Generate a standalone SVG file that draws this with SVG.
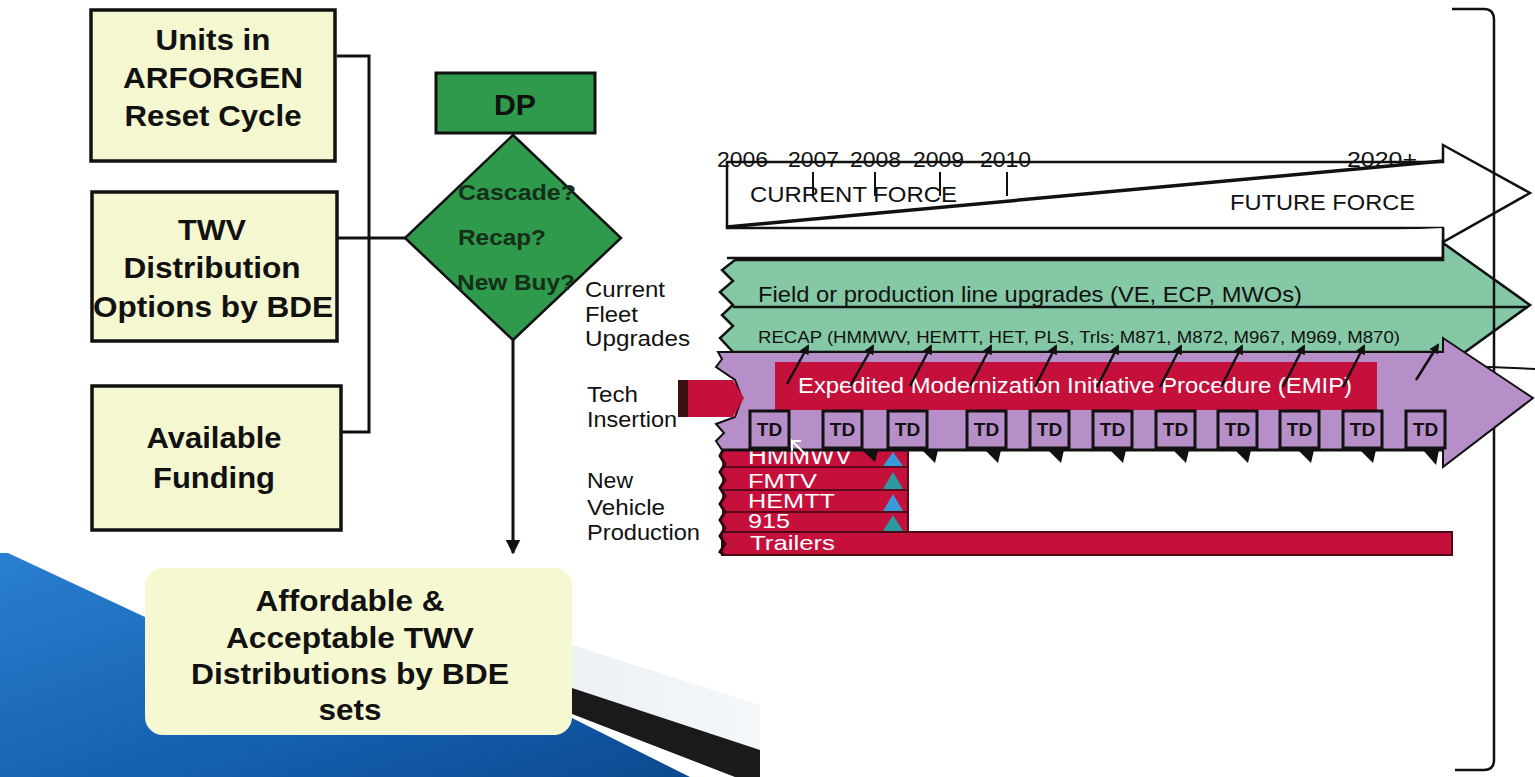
<svg xmlns="http://www.w3.org/2000/svg" width="1535" height="777" viewBox="0 0 1535 777">
<defs>
<style>
.bx{fill:#f4f7cf;stroke:#111;stroke-width:3.5}
.bt{font-family:"Liberation Sans",Arial,sans-serif;font-weight:bold;font-size:30px;fill:#111;text-anchor:middle}
.dt{font-family:"Liberation Sans",Arial,sans-serif;font-weight:bold;font-size:22px;fill:#142e19}
.lt{font-family:"Liberation Sans",Arial,sans-serif;font-size:22px;fill:#111}
.tt{font-family:"Liberation Sans",Arial,sans-serif;font-size:22px;fill:#111}
.wt{font-family:"Liberation Sans",Arial,sans-serif;font-size:21px;fill:#fff}
.td{fill:#b68ec8;stroke:#111;stroke-width:3}
.tdt{font-family:"Liberation Sans",Arial,sans-serif;font-weight:bold;font-size:19px;fill:#111;text-anchor:middle}
.ln{fill:none;stroke:#111;stroke-width:3}
.ar{stroke:#111;stroke-width:2.5;fill:none}
.pn{fill:#111}
.red{fill:#c5103c}
</style>
<marker id="ah" viewBox="0 0 10 10" refX="8" refY="5" markerWidth="4" markerHeight="4" orient="auto"><path d="M0,0 L10,5 L0,10 z" fill="#111"/></marker>
<marker id="ah2" viewBox="0 0 10 10" refX="9" refY="5" markerWidth="5" markerHeight="5" orient="auto"><path d="M0,0 L10,5 L0,10 z" fill="#111"/></marker>
<linearGradient id="blue" x1="0" y1="0" x2="1" y2="1">
<stop offset="0" stop-color="#2a7fd0"/>
<stop offset="0.6" stop-color="#1560b0"/>
<stop offset="1" stop-color="#0b4a90"/>
</linearGradient>
<linearGradient id="grey" x1="0" y1="0" x2="1" y2="0">
<stop offset="0" stop-color="#dfe7ef"/>
<stop offset="1" stop-color="#eef2f6"/>
</linearGradient>
</defs>

<!-- background decoration -->
<g id="decor">
<polygon points="0,553 8,553 145,617 572,718 690,777 0,777" fill="url(#blue)"/>
<polygon points="572,645 760,705 760,752 572,690" fill="url(#grey)" opacity="0.6"/>
<polygon points="572,688 760,750 760,777 735,777 572,714" fill="#1a1a1a"/>
</g>

<!-- connectors -->
<g id="connectors">
<polyline class="ln" points="337,56 369,56 369,432 341,432"/>
<line class="ln" x1="337" y1="238" x2="406" y2="238"/>
<line x1="513" y1="340" x2="513" y2="553" stroke="#111" stroke-width="3" marker-end="url(#ah2)"/>
</g>

<g id="box-units">
<rect class="bx" x="91" y="10" width="244" height="151"/>
<text class="bt" x="213" y="50" textLength="115" lengthAdjust="spacingAndGlyphs">Units in</text>
<text class="bt" x="213" y="88" textLength="180" lengthAdjust="spacingAndGlyphs">ARFORGEN</text>
<text class="bt" x="213" y="126" textLength="177" lengthAdjust="spacingAndGlyphs">Reset Cycle</text>
</g>
<g id="box-twv">
<rect class="bx" x="92" y="192" width="245" height="149"/>
<text class="bt" x="212" y="240" textLength="68" lengthAdjust="spacingAndGlyphs">TWV</text>
<text class="bt" x="212" y="278" textLength="177" lengthAdjust="spacingAndGlyphs">Distribution</text>
<text class="bt" x="213" y="317" textLength="240" lengthAdjust="spacingAndGlyphs">Options by BDE</text>
</g>
<g id="box-funding">
<rect class="bx" x="92" y="386" width="249" height="144"/>
<text class="bt" x="214" y="448" textLength="135" lengthAdjust="spacingAndGlyphs">Available</text>
<text class="bt" x="214" y="488" textLength="122" lengthAdjust="spacingAndGlyphs">Funding</text>
</g>

<g id="dp">
<rect x="436" y="73" width="159" height="60" fill="#2f9a4b" stroke="#111" stroke-width="3"/>
<text class="bt" x="515" y="115" textLength="42" lengthAdjust="spacingAndGlyphs">DP</text>
</g>
<g id="decision">
<polygon points="513,135 621,238 513,340 405,238" fill="#2f9a4b" stroke="#111" stroke-width="2.5"/>
<text class="dt" x="458" y="200" textLength="118" lengthAdjust="spacingAndGlyphs">Cascade?</text>
<text class="dt" x="458" y="245" textLength="88" lengthAdjust="spacingAndGlyphs">Recap?</text>
<text class="dt" x="457" y="290" textLength="118" lengthAdjust="spacingAndGlyphs">New Buy?</text>
</g>

<g id="result">
<rect x="145" y="568" width="427" height="167" rx="18" fill="#f5f8d0"/>
<text class="bt" x="350" y="611" textLength="189" lengthAdjust="spacingAndGlyphs">Affordable &amp;</text>
<text class="bt" x="350" y="648" textLength="248" lengthAdjust="spacingAndGlyphs">Acceptable TWV</text>
<text class="bt" x="350" y="684" textLength="318" lengthAdjust="spacingAndGlyphs">Distributions by BDE</text>
<text class="bt" x="350" y="720" textLength="63" lengthAdjust="spacingAndGlyphs">sets</text>
</g>

<!-- row labels -->
<g id="labels">
<text class="lt" x="585" y="297" textLength="80" lengthAdjust="spacingAndGlyphs">Current</text>
<text class="lt" x="585" y="322" textLength="53" lengthAdjust="spacingAndGlyphs">Fleet</text>
<text class="lt" x="585" y="346" textLength="105" lengthAdjust="spacingAndGlyphs">Upgrades</text>
<text class="lt" x="587" y="402" textLength="51" lengthAdjust="spacingAndGlyphs">Tech</text>
<text class="lt" x="587" y="427" textLength="90" lengthAdjust="spacingAndGlyphs">Insertion</text>
<text class="lt" x="587" y="488" textLength="46" lengthAdjust="spacingAndGlyphs">New</text>
<text class="lt" x="587" y="515" textLength="78" lengthAdjust="spacingAndGlyphs">Vehicle</text>
<text class="lt" x="587" y="540" textLength="113" lengthAdjust="spacingAndGlyphs">Production</text>
</g>

<!-- force arrow -->
<g id="force-arrow">
<polygon points="727,162 1443,162 1443,145 1530,193 1443,242 1443,228 727,228" fill="#fff" stroke="#111" stroke-width="2.5" stroke-linejoin="miter"/>
<path d="M727,258 H1443 V228" fill="#fff" stroke="#111" stroke-width="2.5"/>
<line x1="727" y1="227" x2="1443" y2="161" stroke="#111" stroke-width="3.5"/>
<g stroke="#111" stroke-width="2">
<line x1="813" y1="172" x2="813" y2="196"/>
<line x1="875" y1="172" x2="875" y2="196"/>
<line x1="940" y1="172" x2="940" y2="196"/>
<line x1="1007" y1="172" x2="1007" y2="196"/>
</g>
<text class="tt" x="717" y="167" textLength="51" lengthAdjust="spacingAndGlyphs">2006</text>
<text class="tt" x="788" y="167" textLength="51" lengthAdjust="spacingAndGlyphs">2007</text>
<text class="tt" x="850" y="167" textLength="51" lengthAdjust="spacingAndGlyphs">2008</text>
<text class="tt" x="913" y="167" textLength="51" lengthAdjust="spacingAndGlyphs">2009</text>
<text class="tt" x="980" y="167" textLength="51" lengthAdjust="spacingAndGlyphs">2010</text>
<text class="tt" x="1347" y="167" textLength="70" lengthAdjust="spacingAndGlyphs">2020+</text>
<text class="tt" x="750" y="202" textLength="207" lengthAdjust="spacingAndGlyphs">CURRENT FORCE</text>
<text class="tt" x="1230" y="210" textLength="185" lengthAdjust="spacingAndGlyphs">FUTURE FORCE</text>
</g>

<!-- green upgrades arrow -->
<g id="upgrades-arrow">
<polygon points="735,260 1443,260 1443,243 1530,305 1443,368 1443,352 733,352 720,338 733,326 722,315 733,305 720,292 733,281 722,270" fill="#84c8a6" stroke="#111" stroke-width="2.5"/>
<line x1="733" y1="307" x2="1528" y2="307" stroke="#111" stroke-width="2.5"/>
<text class="tt" x="758" y="302" textLength="544" lengthAdjust="spacingAndGlyphs">Field or production line upgrades (VE, ECP, MWOs)</text>
<text class="tt" x="758" y="343" style="font-size:16px" textLength="642" lengthAdjust="spacingAndGlyphs">RECAP (HMMWV, HEMTT, HET, PLS, Trls: M871, M872, M967, M969, M870)</text>
</g>

<!-- bracket -->
<g id="bracket">
<path d="M1452,9 H1484 Q1494,9 1494,20 V760 Q1494,770 1484,770 H1455" fill="none" stroke="#111" stroke-width="2.5"/>
<line x1="1465" y1="366" x2="1535" y2="369" stroke="#111" stroke-width="2"/>
</g>

<!-- new vehicle production -->
<g id="new-vehicle">
<rect class="red" x="722" y="448" width="186" height="84"/>
<rect class="red" x="722" y="532" width="730" height="23" stroke="#4a0a14" stroke-width="2"/>
<g stroke="#5a0a1a" stroke-width="2">
<line x1="722" y1="467" x2="908" y2="467"/>
<line x1="722" y1="490" x2="908" y2="490"/>
<line x1="722" y1="512" x2="908" y2="512"/>
<line x1="908" y1="448" x2="908" y2="532"/>
</g>
<path d="M724,448 L720,456 L725,464 L720,472 L725,480 L720,488 L725,496 L720,504 L725,512 L720,520 L725,528 L720,536 L725,544 L720,552 L724,555" fill="none" stroke="#2a0a10" stroke-width="3"/>
<polygon points="883,466 903,466 893,452" fill="#3a9ad8"/>
<polygon points="883,489 903,489 893,472" fill="#2a9a9e"/>
<polygon points="883,511 903,511 893,494" fill="#3a9ad8"/>
<polygon points="883,531 903,531 893,515" fill="#2a9a9e"/>
<text class="wt" x="748" y="464" style="font-size:23px" textLength="104" lengthAdjust="spacingAndGlyphs">HMMWV</text>
<text class="wt" x="748" y="488" textLength="69" lengthAdjust="spacingAndGlyphs">FMTV</text>
<text class="wt" x="748" y="508" textLength="87" lengthAdjust="spacingAndGlyphs">HEMTT</text>
<text class="wt" x="748" y="528" textLength="42" lengthAdjust="spacingAndGlyphs">915</text>
<text class="wt" x="750" y="550" textLength="85" lengthAdjust="spacingAndGlyphs">Trailers</text>
</g>

<!-- purple tech insertion arrow -->
<g id="tech-arrow">
<polygon points="718,352 1443,352 1443,338 1533,398 1443,467 1443,450 722,450 716,441 724,433 716,424 735,417 742,398 735,380 716,367 722,359" fill="#b68ec8" stroke="#111" stroke-width="2"/>
<polygon class="red" points="678,380 733,380 744,398 733,417 678,417"/>
<rect x="678" y="380" width="10" height="37" fill="#3a1010"/>
<rect class="red" x="775" y="362" width="602" height="48"/>
<text class="wt" x="798" y="393" style="font-size:22px" textLength="554" lengthAdjust="spacingAndGlyphs">Expedited Modernization Initiative Procedure (EMIP)</text>
</g>

<g id="td-row">
<line x1="722" y1="450" x2="1443" y2="450" stroke="#111" stroke-width="3"/>
<rect class="td" x="750" y="411" width="39" height="37"/>
<rect class="td" x="823" y="411" width="39" height="37"/>
<rect class="td" x="888" y="411" width="39" height="37"/>
<rect class="td" x="967" y="411" width="39" height="37"/>
<rect class="td" x="1030" y="411" width="39" height="37"/>
<rect class="td" x="1093" y="411" width="39" height="37"/>
<rect class="td" x="1156" y="411" width="39" height="37"/>
<rect class="td" x="1218" y="411" width="39" height="37"/>
<rect class="td" x="1280" y="411" width="39" height="37"/>
<rect class="td" x="1343" y="411" width="39" height="37"/>
<rect class="td" x="1406" y="411" width="39" height="37"/>
<text class="tdt" x="769.5" y="436">TD</text>
<text class="tdt" x="842.5" y="436">TD</text>
<text class="tdt" x="907.5" y="436">TD</text>
<text class="tdt" x="986.5" y="436">TD</text>
<text class="tdt" x="1049.5" y="436">TD</text>
<text class="tdt" x="1112.5" y="436">TD</text>
<text class="tdt" x="1175.5" y="436">TD</text>
<text class="tdt" x="1237.5" y="436">TD</text>
<text class="tdt" x="1299.5" y="436">TD</text>
<text class="tdt" x="1362.5" y="436">TD</text>
<text class="tdt" x="1425.5" y="436">TD</text>
<polygon class="pn" points="862,450 878,450 875,462"/>
<polygon class="pn" points="922,450 938,450 935,463"/>
<polygon class="pn" points="985,450 1001,450 998,463"/>
<polygon class="pn" points="1048,450 1064,450 1061,463"/>
<polygon class="pn" points="1110,450 1126,450 1123,463"/>
<polygon class="pn" points="1173,450 1189,450 1186,463"/>
<polygon class="pn" points="1235,450 1251,450 1248,463"/>
<polygon class="pn" points="1298,450 1314,450 1311,463"/>
<polygon class="pn" points="1360,450 1376,450 1373,463"/>
<polygon class="pn" points="1423,450 1439,450 1436,465"/>
<path d="M806,455 L792,441 L792,451 M792,441 L801,441" fill="none" stroke="#fff" stroke-width="2"/>
</g>

<!-- recap arrows -->
<g id="recap-arrows">
<line class="ar" x1="787" y1="384" x2="808" y2="346" marker-end="url(#ah)"/>
<line class="ar" x1="850" y1="386" x2="873" y2="346" marker-end="url(#ah)"/>
<line class="ar" x1="910" y1="386" x2="931" y2="346" marker-end="url(#ah)"/>
<line class="ar" x1="970" y1="386" x2="991" y2="346" marker-end="url(#ah)"/>
<line class="ar" x1="1035" y1="387" x2="1056" y2="346" marker-end="url(#ah)"/>
<line class="ar" x1="1097" y1="387" x2="1118" y2="346" marker-end="url(#ah)"/>
<line class="ar" x1="1160" y1="387" x2="1181" y2="346" marker-end="url(#ah)"/>
<line class="ar" x1="1221" y1="387" x2="1242" y2="346" marker-end="url(#ah)"/>
<line class="ar" x1="1283" y1="387" x2="1304" y2="346" marker-end="url(#ah)"/>
<line class="ar" x1="1343" y1="387" x2="1364" y2="346" marker-end="url(#ah)"/>
<line class="ar" x1="1416" y1="380" x2="1438" y2="345" marker-end="url(#ah)"/>
</g>
</svg>
